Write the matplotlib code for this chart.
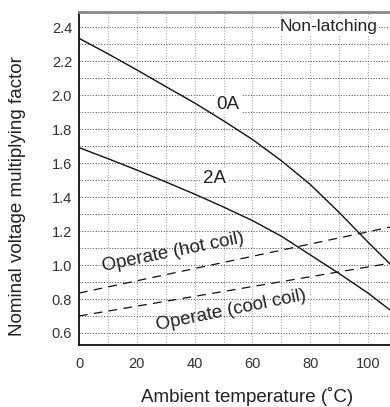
import numpy as np
import matplotlib.pyplot as plt
from matplotlib.ticker import MultipleLocator

plt.rcParams['font.family'] = ['Liberation Sans', 'DejaVu Sans']

# curve data
temp = [0, 10, 20, 30, 40, 50, 60, 70, 80, 90, 100, 108]
factor_0a = [2.336, 2.245, 2.15, 2.052, 1.955, 1.85, 1.74, 1.615, 1.475, 1.31, 1.135, 1.0]
factor_2a = [1.692, 1.627, 1.56, 1.49, 1.418, 1.342, 1.262, 1.17, 1.06, 0.95, 0.835, 0.73]

line_temp = [0, 108]
hot_coil = [0.835, 1.225]
cool_coil = [0.70, 1.012]

y_ticks = [0.6, 0.8, 1.0, 1.2, 1.4, 1.6, 1.8, 2.0, 2.2, 2.4]

fig = plt.figure(figsize=(3.9, 4.07), dpi=100)
ax = fig.add_axes([79 / 390, 1 - 345 / 407, 1 - 79 / 390, 333 / 407])

ax.set_xlim(0, 107.6)
ax.set_ylim(0.529, 2.491)

ax.xaxis.set_major_locator(MultipleLocator(20))
ax.xaxis.set_minor_locator(MultipleLocator(10))
ax.yaxis.set_minor_locator(MultipleLocator(0.1))
ax.set_yticks(y_ticks)
ax.set_yticklabels([f"{v:.1f}" for v in y_ticks])

ax.grid(which='both', axis='y', linestyle=(0, (1, 1.8)), color='#444444', linewidth=0.7)
ax.grid(which='both', axis='x', linestyle=(0, (1, 1.5)), color='#aaaaaa', linewidth=0.8)
ax.set_axisbelow(True)

ax.tick_params(which='both', length=0)
ax.tick_params(axis='y', pad=5, labelsize=10.5, colors='#333333')
ax.tick_params(axis='x', pad=9, labelsize=10.5, colors='#333333')

ax.spines['right'].set_visible(False)
ax.spines['top'].set_color('#888888')
ax.spines['top'].set_linewidth(2)
ax.spines['left'].set_linewidth(1.3)
ax.spines['bottom'].set_linewidth(1.3)
ax.spines['left'].set_color('#111111')
ax.spines['bottom'].set_color('#111111')

ax.plot(temp, factor_0a, color='#111111', linewidth=1.0, zorder=3)
ax.plot(temp, factor_2a, color='#111111', linewidth=1.0, zorder=3)
ax.plot(line_temp, hot_coil, color='#111111', linewidth=0.9, linestyle=(0, (7, 5)), zorder=3)
ax.plot(line_temp, cool_coil, color='#111111', linewidth=0.9, linestyle=(0, (7, 5)), zorder=3)

box = dict(facecolor='white', edgecolor='none', pad=1)
ax.text(86.5, 2.406, "Non-latching", fontsize=12.5, ha='center', va='center',
        color='#222222', bbox=box, zorder=2)
ax.text(51.5, 1.945, "0A", fontsize=13.5, ha='center', va='center', color='#222222',
        bbox=box, zorder=2)
ax.text(47.0, 1.51, "2A", fontsize=13.5, ha='center', va='center', color='#222222',
        bbox=box, zorder=2)
ax.text(32.5, 1.075, "Operate (hot coil)", fontsize=13.5, ha='center', va='center',
        rotation=11.5, color='#222222', zorder=2)
ax.text(52.5, 0.731, "Operate (cool coil)", fontsize=13.5, ha='center', va='center',
        rotation=11.5, color='#222222', zorder=2)

fig.text(18 / 390, 1 - 196 / 407, "Nominal voltage multiplying factor", fontsize=13.5,
         rotation=90, ha='center', va='center', color='#222222')
fig.text(247 / 390, 1 - 396 / 407, "Ambient temperature (\u02daC)", fontsize=13.5,
         ha='center', va='center', color='#222222')

fig.savefig("out.png", dpi=100)
